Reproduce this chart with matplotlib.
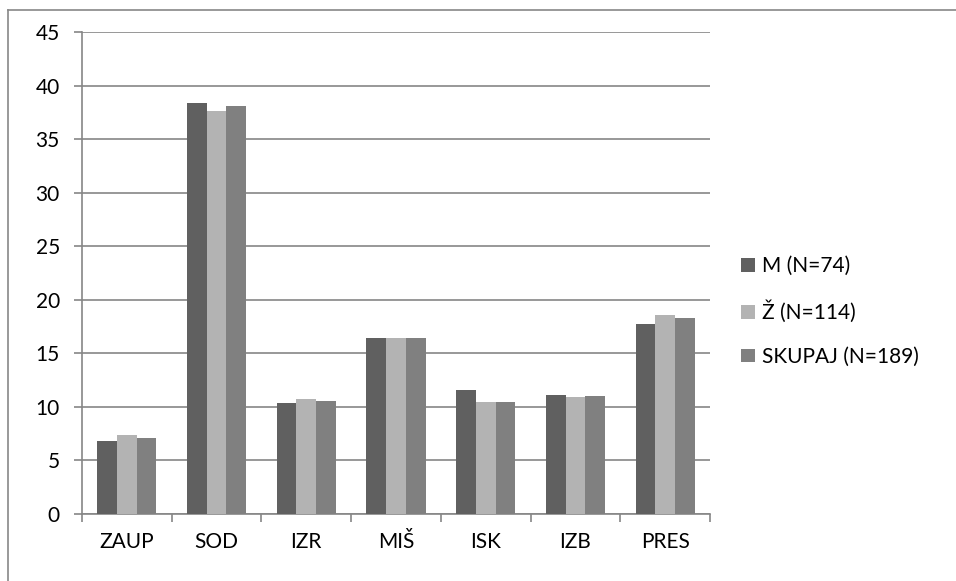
import numpy as np
import matplotlib.pyplot as plt
from matplotlib.lines import Line2D

categories = ['ZAUP', 'SOD', 'IZR', 'MIŠ', 'ISK', 'IZB', 'PRES']
series_names = ['M (N=74)', 'Ž (N=114)', 'SKUPAJ (N=189)']
m_values = [6.8, 38.4, 10.4, 16.4, 11.55, 11.1, 17.7]
z_values = [7.35, 37.6, 10.7, 16.45, 10.45, 10.95, 18.6]
skupaj_values = [7.1, 38.05, 10.55, 16.45, 10.5, 11.05, 18.3]
colors = ['#606060', '#b3b3b3', '#808080']

plt.rcParams['font.family'] = ['Lato', 'DejaVu Sans']

fig = plt.figure(figsize=(9.56, 5.81), dpi=100)
ax = fig.add_axes([82 / 956, 1 - 514 / 581, (710 - 82) / 956, (514 - 32) / 581])

# outer chart frame (only left and top edges visible in the crop)
fx, fy = 8 / 956, 1 - 10 / 581
fig.add_artist(Line2D([fx, fx], [0, fy], transform=fig.transFigure, color='#888888', linewidth=1.2))
fig.add_artist(Line2D([fx, 1], [fy, fy], transform=fig.transFigure, color='#888888', linewidth=1.2))

x = np.arange(len(categories))
w = 0.22
for i, (vals, name) in enumerate(zip([m_values, z_values, skupaj_values], series_names)):
    ax.bar(x + (i - 1) * w, vals, width=w, color=colors[i], label=name, zorder=3)

ax.set_xlim(-0.5, len(categories) - 0.5)
ax.set_ylim(0, 45)
ax.set_yticks(range(0, 46, 5))
ax.yaxis.grid(True, color='#868686', linewidth=1.2, zorder=0)
ax.set_xticks(x)
ax.set_xticklabels(categories)
ax.set_xticks(np.arange(-0.5, len(categories)), minor=True)
ax.tick_params(axis='x', which='major', length=0, labelsize=15, pad=13)
ax.tick_params(axis='x', which='minor', length=6, color='#868686', width=1.2)
ax.tick_params(axis='y', length=6, color='#868686', width=1.2, labelsize=15, pad=10)
for s in ['top', 'right']:
    ax.spines[s].set_visible(False)
for s in ['left', 'bottom']:
    ax.spines[s].set_color('#868686')
    ax.spines[s].set_linewidth(1.2)

ax.legend(loc='center left', bbox_to_anchor=(1.02, 0.42), frameon=False,
          fontsize=15, handlelength=0.65, handleheight=0.65, handletextpad=0.35,
          labelspacing=1.15)

fig.savefig('out.png', dpi=100)
